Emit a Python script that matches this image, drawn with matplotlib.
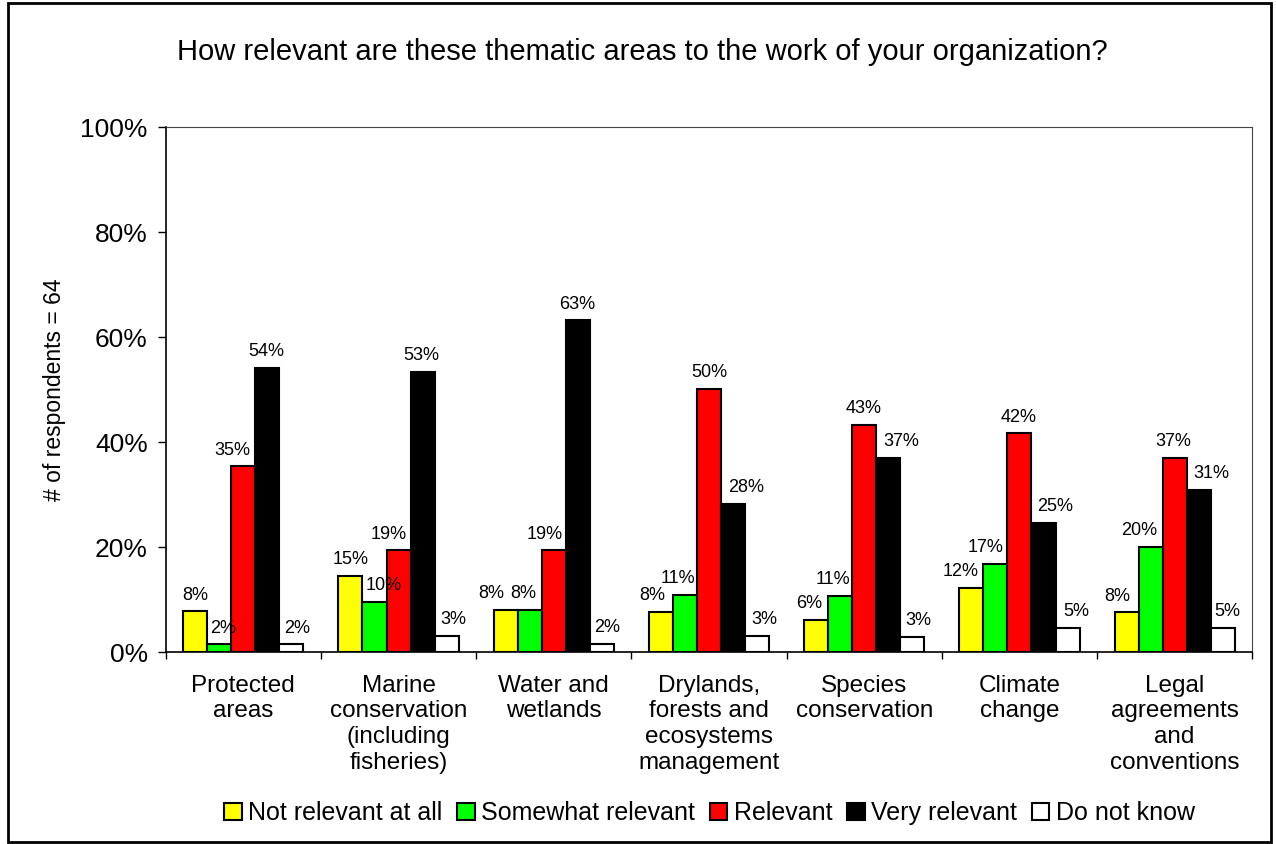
import numpy as np
import matplotlib.pyplot as plt
from matplotlib.patches import Rectangle

plt.rcParams['font.family'] = ['Liberation Sans', 'DejaVu Sans']

categories = ['Protected\nareas', 'Marine\nconservation\n(including\nfisheries)',
              'Water and\nwetlands', 'Drylands,\nforests and\necosystems\nmanagement',
              'Species\nconservation', 'Climate\nchange', 'Legal\nagreements\nand\nconventions']
series = ['Not relevant at all', 'Somewhat relevant', 'Relevant', 'Very relevant', 'Do not know']

not_relevant = [7.8, 14.6, 8.0, 7.7, 6.1, 12.3, 7.6]
somewhat_relevant = [1.5, 9.6, 8.0, 11.0, 10.7, 16.9, 20.0]
relevant = [35.4, 19.4, 19.4, 50.2, 43.3, 41.7, 37.0]
very_relevant = [54.1, 53.4, 63.2, 28.2, 37.1, 24.7, 30.9]
do_not_know = [1.5, 3.1, 1.6, 3.1, 3.0, 4.6, 4.6]

colors = ['#ffff00', '#00ff00', '#ff0000', '#000000', '#ffffff']

# horizontal nudges of the value labels (pixels), as excel placed them
label_dx = [
    [0, 4, -11, -1, 6],
    [0, 9, -10, -1, 7],
    [-14, -6, -9, -1, 5],
    [-9, -7, 0, 13, 7],
    [-7, -7, -1, 13, 6],
    [-11, -10, -1, 12, 9],
    [-9, -11, -1, 13, 5],
]

fig = plt.figure(figsize=(12.76, 8.44), dpi=100)
ax = fig.add_axes([165.7 / 1276, 1 - 652.3 / 844, (1252.3 - 165.7) / 1276, (652.3 - 127.3) / 844])

x = np.arange(len(categories))
w = 0.155
all_vals = [not_relevant, somewhat_relevant, relevant, very_relevant, do_not_know]
handles = []
for i, (vals, name, col) in enumerate(zip(all_vals, series, colors)):
    bars = ax.bar(x + (i - 2) * w, vals, w, color=col, edgecolor='black',
                  linewidth=1.5, label=name)
    handles.append(bars)
    for j, (b, v) in enumerate(zip(bars, vals)):
        ax.annotate(f'{v:.0f}%', (b.get_x() + b.get_width() / 2, v),
                    xytext=(label_dx[j][i] * 0.72, 8.5), textcoords='offset points',
                    ha='center', va='baseline', fontsize=13)

ax.set_xlim(-0.5, len(categories) - 0.5)
ax.set_ylim(0, 100)
ax.set_yticks(range(0, 101, 20))
ax.set_yticklabels([f'{t}%' for t in range(0, 101, 20)], fontsize=19)
ax.tick_params(axis='y', direction='out', length=6, width=1, pad=7)

ax.set_xticks(x)
ax.set_xticklabels(categories, fontsize=17.5, linespacing=1.22)
ax.tick_params(axis='x', which='major', length=0, pad=16)
ax.set_xticks(np.arange(len(categories) + 1) - 0.5, minor=True)
ax.tick_params(axis='x', which='minor', direction='out', length=5, width=1)

for s in ['left', 'bottom']:
    ax.spines[s].set_linewidth(1.2)
for s in ['top', 'right']:
    ax.spines[s].set_linewidth(0.8)
    ax.spines[s].set_color('#444444')

ax.set_ylabel('# of respondents = 64', fontsize=16.5, labelpad=10)

fig.text(0.5035, 1 - 52 / 844, 'How relevant are these thematic areas to the work of your organization?',
         ha='center', va='center', fontsize=21)

fig.legend(handles=handles, labels=series, loc='center', bbox_to_anchor=(0.556, 1 - 813 / 844),
           ncol=5, frameon=False, fontsize=18, handlelength=0.7, handleheight=0.7,
           handletextpad=0.25, columnspacing=0.6, borderpad=0)

fig.patches.append(Rectangle((8 / 1276, 2 / 844), 1263 / 1276, 839 / 844,
                             transform=fig.transFigure, fill=False,
                             edgecolor='black', linewidth=2))

plt.savefig('out.png', dpi=100)
